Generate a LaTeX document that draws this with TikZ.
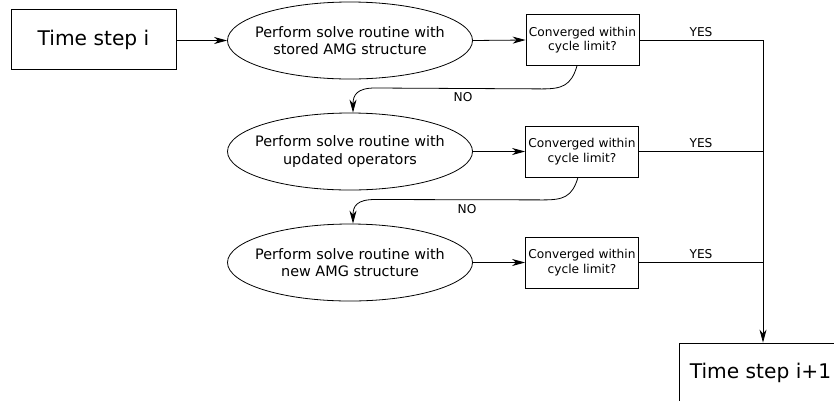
\documentclass[tikz,border=0pt]{standalone}
\usepackage{fontspec}
\setmainfont{DejaVu Sans}
\usetikzlibrary{shapes.geometric,arrows.meta,calc}

\tikzset{
  flow/.style={line width=0.8pt, draw=black},
  arr/.style={flow, -{Stealth[length=13pt,width=7pt,inset=4pt]}},
  bigbox/.style={draw, line width=0.8pt, minimum width=165pt, minimum height=60pt,
    inner sep=0pt, font=\fontsize{20.2}{24}\selectfont},
  solve/.style={draw, ellipse, line width=0.8pt, minimum width=245pt, minimum height=77pt,
    inner sep=0pt},
  solvetext/.style={align=center, inner sep=0pt, font=\fontsize{14.4}{17.5}\selectfont},
  check/.style={draw, line width=0.8pt, minimum width=113pt, minimum height=51pt,
    inner sep=0pt, align=center, font=\fontsize{12.2}{14.5}\selectfont},
  lbl/.style={font=\fontsize{12.2}{14}\selectfont, inner sep=0pt}
}

\begin{document}
\begin{tikzpicture}[x=1pt,y=-1pt]
  \clip (0,0) rectangle (834,400);
  \useasboundingbox (0,0) rectangle (834,400);

  % time steps
  \node[bigbox] (t1) at (93.5,39.5) {Time step i};
  \node[bigbox, minimum width=163pt] (t2) at (760.5,373) {Time step i+1};

  % solve stages (ellipse outline with its text placed at the centre)
  \node[solve, label={[solvetext]center:Perform solve routine with\\stored AMG structure}]
    (e1) at (350,40.5) {};
  \node[solve, label={[solvetext]center:Perform solve routine with\\updated operators}]
    (e2) at (350,151.5) {};
  \node[solve, label={[solvetext]center:Perform solve routine with\\new AMG structure}]
    (e3) at (350,262.5) {};

  % convergence checks
  \node[check] (c1) at (582.5,40) {Converged within\\cycle limit?};
  \node[check] (c2) at (582,151.5) {Converged within\\cycle limit?};
  \node[check] (c3) at (582,262.5) {Converged within\\cycle limit?};

  % junction points on the collector line
  \coordinate (j1) at (763,40);
  \coordinate (j2) at (763,151.5);
  \coordinate (j3) at (763,262.5);

  % forward arrows
  \draw[arr] (t1.east |- e1.west) -- (e1.west);
  \draw[arr] (e1.east) -- (c1.west);
  \draw[arr] (e2.east) -- (c2.west);
  \draw[arr] (e3.east) -- (c3.west);

  % YES branches
  \draw[flow] (c1.east) -- (j1);
  \draw[flow] (c2.east) -- (j2);
  \draw[flow] (c3.east) -- (j3);
  \draw[arr] (j1) -- (j1 |- t2.north);
  \node[lbl] (y1) at (701,32) {YES};
  \node[lbl] (y2) at (701,143) {YES};
  \node[lbl] (y3) at (701,254) {YES};

  % NO branches
  \draw[arr] ([xshift=-5.5pt]c1.south) .. controls ++(-6,20) and ++(20,0) .. ++(-35,23)
    -- (375,88) .. controls (357,88) and (353,95) .. ([xshift=3pt]e2.north);
  \node[lbl] (n1) at (463,97.5) {NO};
  \draw[arr] ([xshift=-4pt]c2.south) .. controls ++(-6,20) and ++(20,0) .. ++(-35,22.5)
    -- (375,199.5) .. controls (357,199.5) and (353,206) .. ([xshift=3pt]e3.north);
  \node[lbl] (n2) at (467,209) {NO};
\end{tikzpicture}
\end{document}
